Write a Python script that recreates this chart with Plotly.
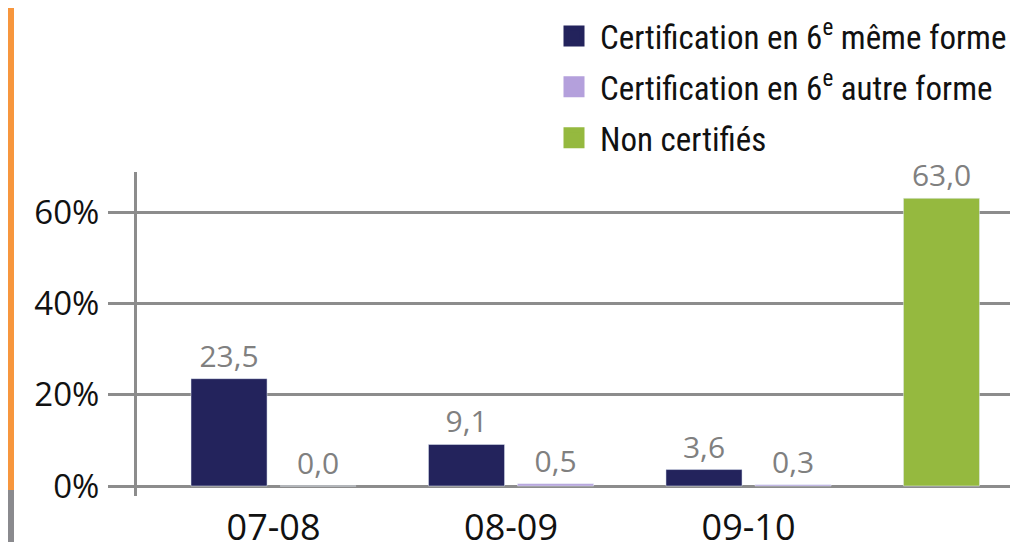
import plotly.graph_objects as go

categories = ["07-08", "08-09", "09-10", " "]
same_form = [23.5, 9.1, 3.6]
other_form = [0.0, 0.5, 0.3]
non_certified = [63.0]
series_names = ["Certification en 6<sup>e</sup> même forme",
                "Certification en 6<sup>e</sup> autre forme",
                "Non certifiés"]
colors = ["#23235c", "#b4a0dc", "#95b93f"]
y_ticks = [0, 20, 40, 60]
y_tick_text = [f"{v}%" for v in y_ticks]

# page has an 8px body margin, so the figure is 8px smaller than the window
W, H = 1022, 534
ml, mr, mt, mb = 129, 20, 164, 46
pw, ph = W - ml - mr, H - mt - mb

grid_col = "#8c8c8c"
label_font = dict(family="Open Sans, Segoe UI, sans-serif", size=30, color="#808080")

fig = go.Figure()
fig.add_trace(go.Bar(x=categories[:3], y=same_form, marker_color=colors[0],
                     offsetgroup="a", showlegend=False))
fig.add_trace(go.Bar(x=categories[:3], y=other_form, marker_color=colors[1],
                     offsetgroup="b", showlegend=False))
fig.add_trace(go.Bar(x=categories[3:], y=non_certified, marker_color=colors[2],
                     offsetgroup="a", showlegend=False))
fig.update_traces(texttemplate="%{y:.1f}", textposition="outside", cliponaxis=False,
                  constraintext="none", textfont=label_font, hoverinfo="skip",
                  selector=dict(type="bar"))

for i, (name, col) in enumerate(zip(series_names, colors)):
    fig.add_trace(go.Scatter(x=[categories[0]], y=[None], mode="markers", name=name,
                             hoverinfo="skip", legendgroup=f"g{i}",
                             marker=dict(symbol="square", size=16, color=col,
                                         line=dict(width=5, color=col))))

shapes = [
    dict(type="rect", xref="paper", yref="paper", x0=-ml / pw, x1=(6 - ml) / pw,
         y0=(H - mb - 482) / ph, y1=(H - mb) / ph, fillcolor="#f7963d", line_width=0,
         layer="below"),
    dict(type="rect", xref="paper", yref="paper", x0=-ml / pw, x1=(6 - ml) / pw,
         y0=(H - mb - H) / ph, y1=(H - mb - 482) / ph, fillcolor="#8a8a8e", line_width=0,
         layer="below"),
]

fig.update_layout(
    width=W, height=H, margin=dict(l=ml, r=mr, t=mt, b=mb, autoexpand=False),
    paper_bgcolor="white", plot_bgcolor="white",
    barmode="group", bargap=0.25, bargroupgap=0.146,
    separators=", ",
    showlegend=True,
    legend=dict(x=540 / W, y=1 + 16 / H, xref="container", yref="container",
                xanchor="left", yanchor="top", itemsizing="trace", itemwidth=42,
                font=dict(family="Liberation Sans Narrow, Roboto Condensed, Arial Narrow, sans-serif",
                          size=33, color="#111111"),
                bgcolor="rgba(0,0,0,0)", borderwidth=0, tracegroupgap=5),
    shapes=shapes,
    xaxis=dict(type="category", categoryorder="array", categoryarray=categories,
               range=[-0.575, 3.101], automargin=False,
               showline=False, showgrid=False, ticks="", zeroline=False,
               ticklabelstandoff=7,
               tickfont=dict(family="Open Sans, Segoe UI, sans-serif", size=36, color="#111111")),
    yaxis=dict(range=[-2.19, 68.76], tickvals=y_ticks, ticktext=y_tick_text, automargin=False,
               showgrid=True, gridcolor=grid_col, gridwidth=2.5, zeroline=False,
               ticks="outside", ticklen=26, tickcolor=grid_col, tickwidth=2.5,
               showline=True, linecolor=grid_col, linewidth=3,
               ticklabelstandoff=2,
               tickfont=dict(family="Open Sans, Segoe UI, sans-serif", size=33, color="#111111")),
)

fig.write_html("out.html")
